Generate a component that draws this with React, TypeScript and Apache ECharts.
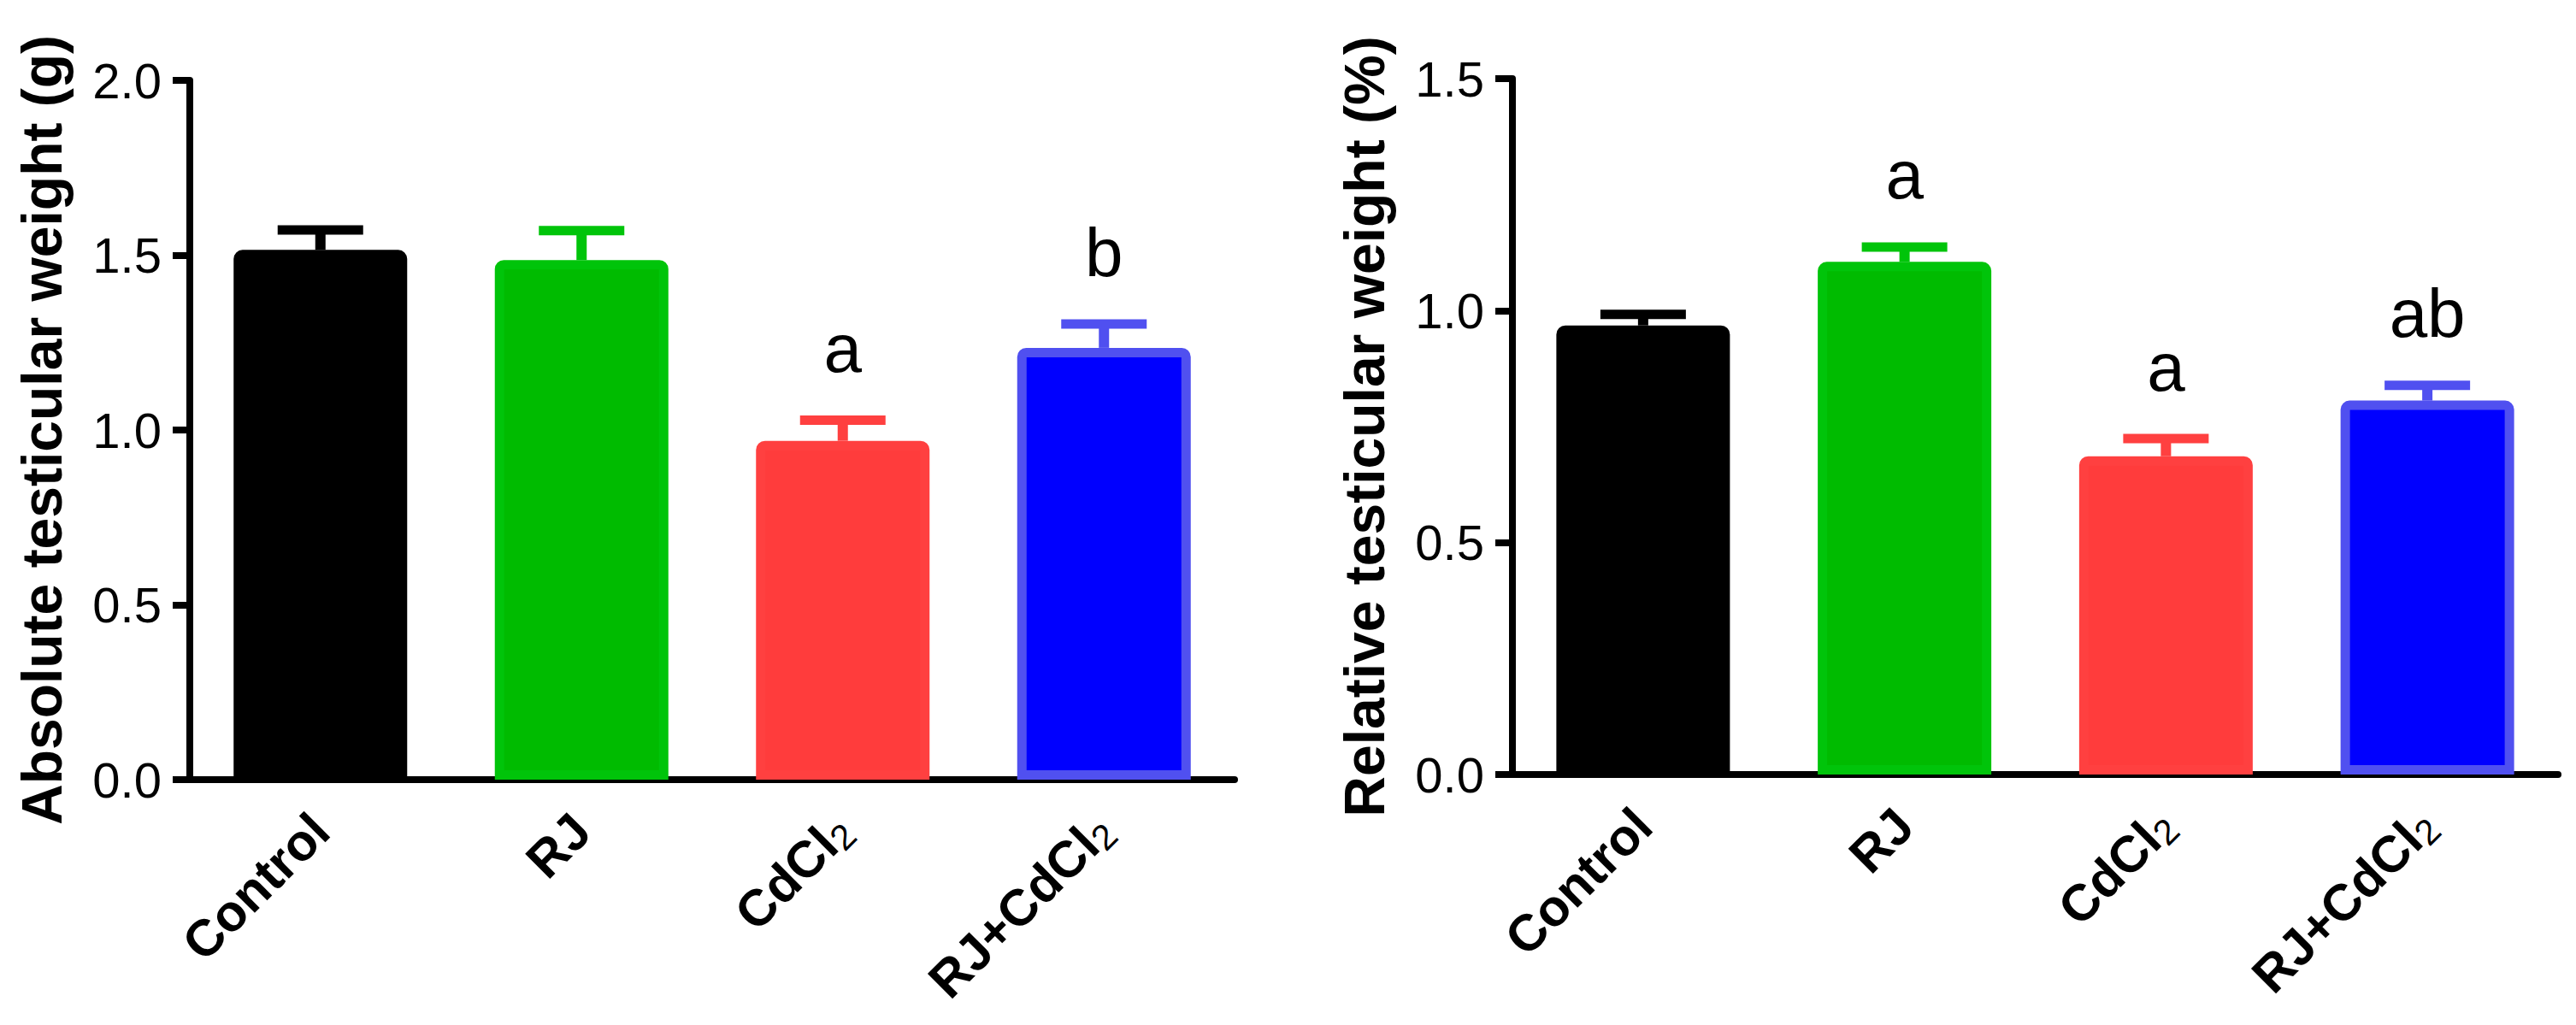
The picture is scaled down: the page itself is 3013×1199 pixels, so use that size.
import React, { useEffect, useRef } from 'react';
import * as echarts from 'echarts';

const categories = ['Control', 'RJ', 'CdCl2', 'RJ+CdCl2'];

const absMeans = [1.515, 1.486, 0.969, 1.235];
const absErrors = [0.057, 0.084, 0.059, 0.068];
const absLetters = ['', '', 'a', 'b'];
const absTicks = [0, 0.5, 1.0, 1.5, 2.0];

const relMeans = [0.968, 1.105, 0.686, 0.806];
const relErrors = [0.024, 0.032, 0.038, 0.033];
const relLetters = ['', 'a', 'a', 'ab'];
const relTicks = [0, 0.5, 1.0, 1.5];

const barFills = ['#000000', '#00BB00', '#FF3C3C', '#0000FF'];
const barBorders = ['#000000', '#00C40A', '#FF4040', '#5050F0'];

const FONT = '"Liberation Sans", Arial, Helvetica, sans-serif';

function xLabel(v: string) {
  if (v.endsWith('CdCl2')) return `{b|${v.slice(0, -1)}}{s|2}`;
  return `{b|${v}}`;
}

function makeAxes(gridIndex: number, ticks: number[], title: string) {
  const max = ticks[ticks.length - 1];
  return {
    x: {
      type: 'category',
      gridIndex,
      data: categories,
      boundaryGap: true,
      axisLine: { lineStyle: { color: '#000', width: 8 } },
      axisTick: { alignWithLabel: true, length: 20, lineStyle: { color: '#000', width: 8 } },
      axisLabel: {
        rotate: 45,
        margin: 50,
        interval: 0,
        formatter: xLabel,
        rich: {
          b: { fontSize: 60, fontWeight: 'bold', fontFamily: FONT, color: '#000', lineHeight: 66 },
          s: { fontSize: 42, fontWeight: 'normal', fontFamily: FONT, color: '#000', lineHeight: 50, verticalAlign: 'bottom' },
        },
      },
      splitLine: { show: false },
    },
    y: {
      type: 'value',
      gridIndex,
      min: 0,
      max,
      interval: 0.5,
      name: title,
      nameLocation: 'middle',
      nameGap: 140,
      nameRotate: 90,
      nameTextStyle: { fontSize: 66, fontWeight: 'bold', fontFamily: FONT, color: '#000' },
      axisLine: { show: true, lineStyle: { color: '#000', width: 8 } },
      axisTick: { show: true, length: 20, lineStyle: { color: '#000', width: 8 } },
      axisLabel: {
        margin: 33,
        fontSize: 58,
        fontFamily: FONT,
        color: '#000',
        formatter: (v: number) => v.toFixed(1),
      },
      splitLine: { show: false },
    },
  };
}

function barSeries(idx: number, means: number[]) {
  return {
    type: 'bar',
    xAxisIndex: idx,
    yAxisIndex: idx,
    barWidth: 203,
    z: 2,
    data: means.map((m, i) => ({
      value: m,
      itemStyle: {
        color: barFills[i],
        borderColor: barBorders[i],
        borderWidth: 11,
        borderRadius: [5, 5, 0, 0],
      },
    })),
  };
}

function errSeries(idx: number, means: number[], errs: number[], letters: string[]) {
  return {
    type: 'custom',
    xAxisIndex: idx,
    yAxisIndex: idx,
    z: 3,
    encode: { x: 0, y: [1, 2] },
    data: means.map((m, i) => [i, m, m + errs[i]]),
    renderItem: (params: any, api: any) => {
      const i = api.value(0);
      const lo = api.coord([i, api.value(1)]);
      const hi = api.coord([i, api.value(2)]);
      const color = barBorders[i];
      const half = 50;
      const children: any[] = [
        { type: 'line', shape: { x1: lo[0], y1: lo[1], x2: hi[0], y2: hi[1] }, style: { stroke: color, lineWidth: 12 } },
        { type: 'line', shape: { x1: hi[0] - half, y1: hi[1], x2: hi[0] + half, y2: hi[1] }, style: { stroke: color, lineWidth: 11 } },
      ];
      if (letters[i]) {
        children.push({
          type: 'text',
          style: {
            text: letters[i],
            x: hi[0],
            y: hi[1] - 44,
            align: 'center',
            verticalAlign: 'bottom',
            fontSize: 80,
            lineHeight: 80,
            fontFamily: FONT,
            fill: '#000',
          },
        });
      }
      return { type: 'group', children };
    },
  };
}

export default function App() {
  const ref = useRef<HTMLDivElement>(null);
  useEffect(() => {
    if (!ref.current) return;
    const chart = echarts.init(ref.current, undefined, { renderer: 'svg' });
    const a = makeAxes(0, absTicks, 'Absolute testicular weight (g)');
    const b = makeAxes(1, relTicks, 'Relative testicular weight (%)');
    chart.setOption({
      animation: false,
      backgroundColor: '#ffffff',
      grid: [
        { left: 222, top: 94, width: 1222, height: 818, containLabel: false },
        { left: 1769, top: 92, width: 1223, height: 814, containLabel: false },
      ],
      xAxis: [a.x, b.x],
      yAxis: [a.y, b.y],
      series: [
        barSeries(0, absMeans),
        errSeries(0, absMeans, absErrors, absLetters),
        barSeries(1, relMeans),
        errSeries(1, relMeans, relErrors, relLetters),
      ],
    });
    return () => chart.dispose();
  }, []);
  return <div ref={ref} style={{ position: 'fixed', left: 0, top: 0, width: 3013, height: 1199, background: '#fff' }} />;
}
